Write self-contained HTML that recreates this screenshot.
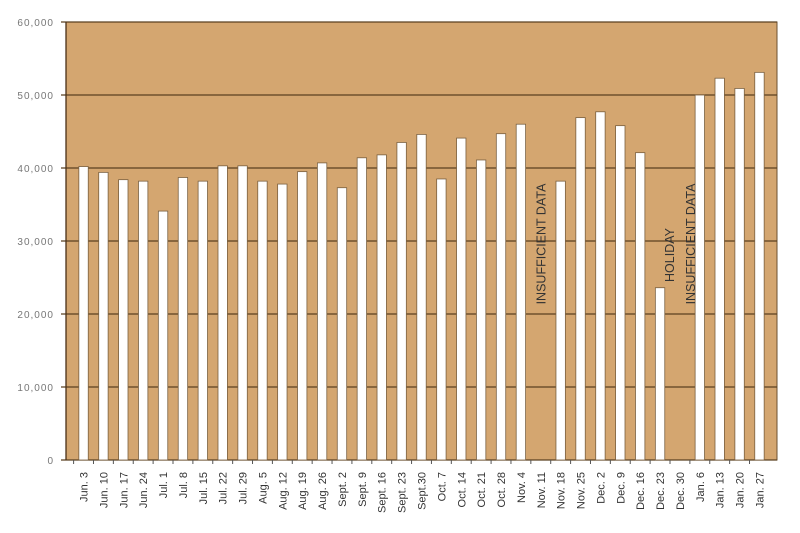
<!DOCTYPE html>
<html><head><meta charset="utf-8"><style>
body{margin:0;background:#fff;width:800px;height:528px;overflow:hidden}
svg{font-family:"Liberation Sans",sans-serif}
</style></head><body>
<svg id="chart" width="800" height="528" xmlns="http://www.w3.org/2000/svg"></svg>
<script>
const categories=["Jun. 3","Jun. 10","Jun. 17","Jun. 24","Jul. 1","Jul. 8","Jul. 15","Jul. 22","Jul. 29","Aug. 5","Aug. 12","Aug. 19","Aug. 26","Sept. 2","Sept. 9","Sept. 16","Sept. 23","Sept.30","Oct. 7","Oct. 14","Oct. 21","Oct. 28","Nov. 4","Nov. 11","Nov. 18","Nov. 25","Dec. 2","Dec. 9","Dec. 16","Dec. 23","Dec. 30","Jan. 6","Jan. 13","Jan. 20","Jan. 27"];
const values=[40200,39400,38400,38200,34100,38700,38200,40300,40300,38200,37800,39500,40700,37300,41400,41800,43500,44600,38500,44100,41100,44700,46000,null,38200,46900,47700,45800,42100,23600,null,50000,52300,50900,53100];
const yTicks=[0,10000,20000,30000,40000,50000,60000];
const yTickLabels=["0","10,000","20,000","30,000","40,000","50,000","60,000"];
const notes=[{cat:"Nov. 11",lines:["INSUFFICIENT DATA"]},{cat:"Dec. 30",lines:["HOLIDAY","INSUFFICIENT DATA"]}];

const svg=document.getElementById('chart');
const NS="http://www.w3.org/2000/svg";
const L=66,R=777,T=22,B=460,yMax=60000;
const pad=7.6,step=(R-L-2*pad)/categories.length;
const y=v=>B-(v/yMax)*(B-T);
const x=i=>L+pad+step*(i+0.5);
function mk(tag,attrs,parent){const e=document.createElementNS(NS,tag);for(const k in attrs)e.setAttribute(k,attrs[k]);(parent||svg).appendChild(e);return e;}

const bg=mk('rect',{x:L,y:T,width:R-L,height:B-T,fill:'#d4a670',stroke:'#6b5030','stroke-width':1});



yTicks.forEach((t,i)=>{
  const g=mk('line',{x1:L-5,x2:R,y1:y(t),y2:y(t),stroke:'#5a4020','stroke-width':1.3});
  
  
  const tx=mk('text',{x:L-12,y:y(t)+4,'text-anchor':'end','font-size':10,fill:'#777','letter-spacing':'1'});
  tx.textContent=yTickLabels[i];
  
  
});
const ax=mk('line',{x1:L,x2:L,y1:T,y2:B,stroke:'#4a3018','stroke-width':1.3});



categories.forEach((c,i)=>{
  const tk=mk('line',{x1:x(i)-step/2,x2:x(i)-step/2,y1:B,y2:B+4,stroke:'#555'});
  
  
  const v=values[i];
  if(v!=null){
    const r=mk('rect',{x:x(i)-4.7,y:y(v),width:9.4,height:B-y(v),fill:'#fff',stroke:'#7a6040','stroke-width':0.8});
    
    
  }
  const lt=mk('text',{x:0,y:0,'text-anchor':'end','font-size':11,fill:'#333',transform:`translate(${x(i)+4},${B+12}) rotate(-90)`});
  lt.textContent=c;
  
  
});

notes.forEach(n=>{
  const i=categories.indexOf(n.cat);
  const cx=x(i);
  n.lines.forEach((s,j)=>{
    const off=(j-(n.lines.length-1)/2)*21;
    const t=mk('text',{x:0,y:0,'text-anchor':'middle','font-size':12.5,fill:'#333',transform:`translate(${cx+off+4.5},${j==0&&n.lines.length>1?255:244}) rotate(-90)`});
    t.textContent=s;
    
    
  });
});
</script>
</body></html>
